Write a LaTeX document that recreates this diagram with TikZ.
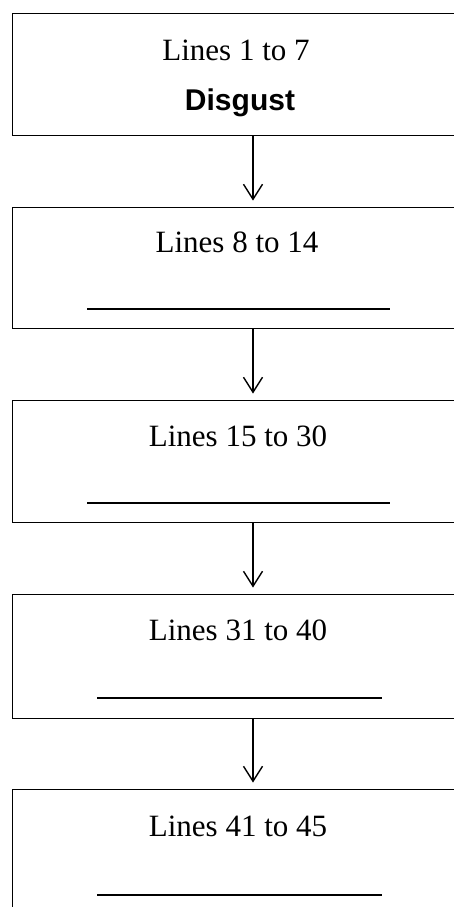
\documentclass[tikz,border=0pt]{standalone}
\usepackage{fontspec}
\setmainfont{Liberation Serif}
\setsansfont{Liberation Sans}
\usetikzlibrary{arrows.meta}
\begin{document}
\begin{tikzpicture}[x=1pt,y=-1pt,
  box/.style={draw=black, line width=0.9pt, minimum width=482pt, inner sep=0pt, rectangle},
  lbl/.style={anchor=base, inner sep=0pt, font=\fontsize{31}{37}\selectfont},
  head/.style={anchor=base, inner sep=0pt, font=\sffamily\bfseries\fontsize{30}{36}\selectfont},
  blank/.style={line width=1.5pt},
  arr/.style={line width=1.4pt, -{Straight Barb[length=15pt,width=19pt,line width=1.4pt]}, shorten >=6pt}]
\useasboundingbox (0,0) rectangle (454,907);
\clip (0,0) rectangle (454,907);
% boxes (right side runs off the picture)
\node[box, minimum height=122pt] (b1) at (253,74) {};
\node[box, minimum height=121pt] (b2) at (253,267.5) {};
\node[box, minimum height=122pt] (b3) at (253,461) {};
\node[box, minimum height=124pt] (b4) at (253,656) {};
\node[box, minimum height=140pt] (b5) at (253,859) {};
% texts
\node[lbl] (t1) at (236,60) {Lines 1 to 7};
\node[head] (d1) at (240,110) {Disgust};
\node[lbl] (t2) at (237,252) {Lines 8 to 14};
\node[lbl] (t3) at (238,446) {Lines 15 to 30};
\node[lbl] (t4) at (238,640) {Lines 31 to 40};
\node[lbl] (t5) at (238,836) {Lines 41 to 45};
% blanks to fill in
\coordinate (u2a) at (87,309);  \coordinate (u2b) at (390,309);
\coordinate (u3a) at (87,503);  \coordinate (u3b) at (390,503);
\coordinate (u4a) at (97,698);  \coordinate (u4b) at (382,698);
\coordinate (u5a) at (97,895);  \coordinate (u5b) at (382,895);
\draw[blank] (u2a) -- (u2b);
\draw[blank] (u3a) -- (u3b);
\draw[blank] (u4a) -- (u4b);
\draw[blank] (u5a) -- (u5b);
% connectors
\draw[arr] (b1.south) -- (b2.north);
\draw[arr] (b2.south) -- (b3.north);
\draw[arr] (b3.south) -- (b4.north);
\draw[arr] (b4.south) -- (b5.north);
\end{tikzpicture}
\end{document}
